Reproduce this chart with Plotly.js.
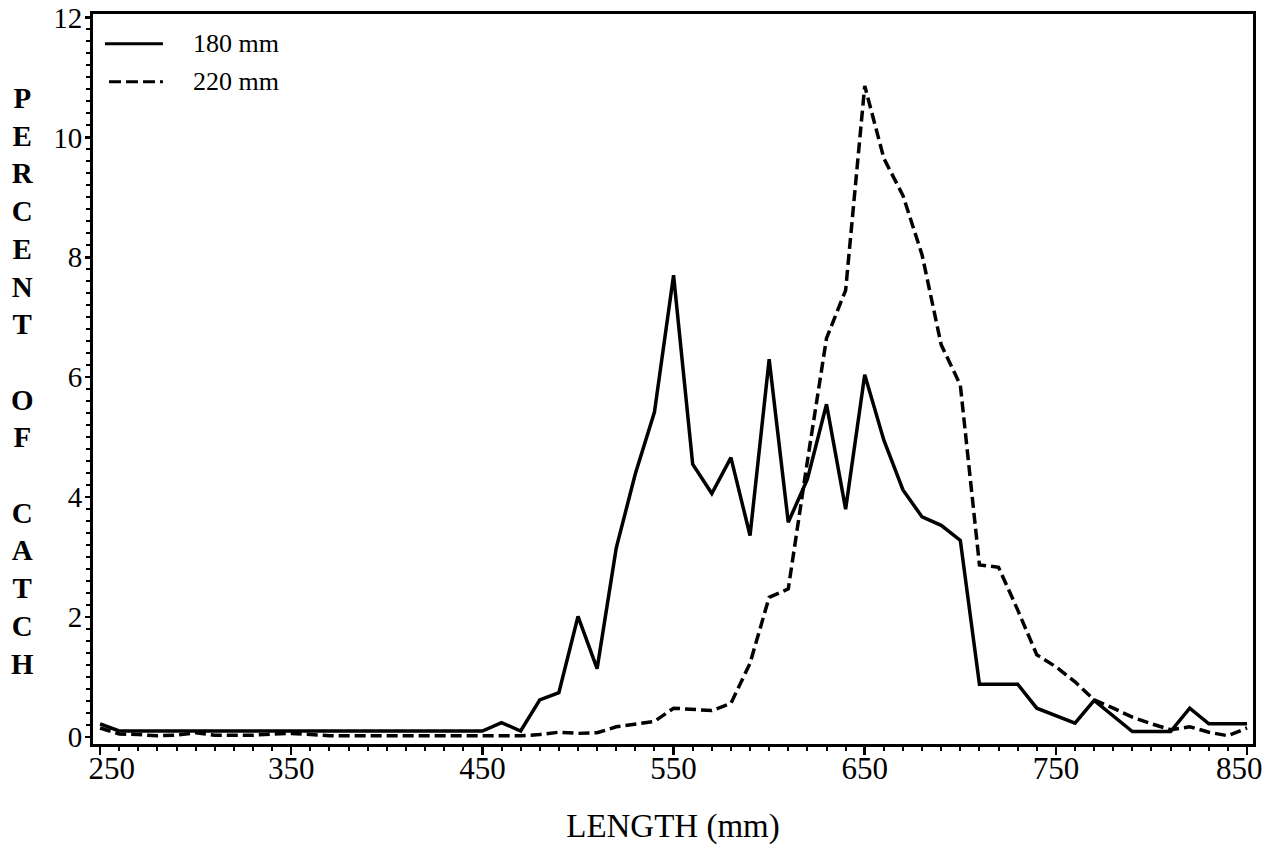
<!DOCTYPE html>
<html>
<head>
<meta charset="utf-8">
<script src="https://cdn.plot.ly/plotly-3.0.1.min.js"></script>
<style>
  html, body { margin: 0; padding: 0; background: #fff; }
  #chart { width: 1281px; height: 848px; }
</style>
</head>
<body>
<div id="chart"></div>
<script>
// Length classes (mm)
const lengths = [250, 260, 270, 280, 290, 300, 310, 320, 330, 340,
                 350, 360, 370, 380, 390, 400, 410, 420, 430, 440,
                 450, 460, 470, 480, 490, 500, 510, 520, 530, 540,
                 550, 560, 570, 580, 590, 600, 610, 620, 630, 640,
                 650, 660, 670, 680, 690, 700, 710, 720, 730, 740,
                 750, 760, 770, 780, 790, 800, 810, 820, 830, 840, 850];

// Percent of catch, 180 mm mesh (solid)
const mesh180 = [0.22, 0.10, 0.10, 0.10, 0.10, 0.10, 0.10, 0.10, 0.10, 0.10,
                 0.10, 0.10, 0.10, 0.10, 0.10, 0.10, 0.10, 0.10, 0.10, 0.10,
                 0.10, 0.24, 0.10, 0.62, 0.74, 2.01, 1.14, 3.15, 4.39, 5.42,
                 7.70, 4.55, 4.06, 4.66, 3.36, 6.30, 3.58, 4.30, 5.55, 3.80,
                 6.04, 4.95, 4.12, 3.67, 3.53, 3.28, 0.88, 0.88, 0.88, 0.48,
                 0.36, 0.23, 0.61, 0.35, 0.09, 0.09, 0.09, 0.48, 0.22, 0.22, 0.22];

// Percent of catch, 220 mm mesh (dashed)
const mesh220 = [0.15, 0.05, 0.04, 0.02, 0.03, 0.07, 0.03, 0.03, 0.03, 0.05,
                 0.06, 0.04, 0.02, 0.02, 0.02, 0.02, 0.02, 0.02, 0.02, 0.02,
                 0.02, 0.02, 0.02, 0.04, 0.08, 0.06, 0.07, 0.17, 0.22, 0.26,
                 0.48, 0.46, 0.44, 0.56, 1.23, 2.33, 2.47, 4.60, 6.65, 7.45,
                 10.86, 9.65, 9.03, 8.04, 6.54, 5.87, 2.87, 2.83, 2.12, 1.37,
                 1.17, 0.92, 0.62, 0.48, 0.33, 0.22, 0.12, 0.17, 0.08, 0.02, 0.15];

const seriesNames = ['180 mm', '220 mm'];
const xTickVals = [250, 350, 450, 550, 650, 750, 850];
const NB = '\u00a0';
const xTickText = [NB + NB + NB + '250', '350', '450', '550', '650', '750', '850' + NB + NB];
const yTickVals = [0, 2, 4, 6, 8, 10, 12];
const yTitle = 'P<br>E<br>R<br>C<br>E<br>N<br>T<br> <br>O<br>F<br> <br>C<br>A<br>T<br>C<br>H';

const FONT = 'Liberation Serif, Times New Roman, serif';

const traces = [
  { x: lengths, y: mesh180, name: seriesNames[0], type: 'scatter', mode: 'lines',
    line: { color: '#000', width: 3.5, dash: 'solid' }, showlegend: false },
  { x: lengths, y: mesh220, name: seriesNames[1], type: 'scatter', mode: 'lines',
    line: { color: '#000', width: 3.5, dash: '11px,5px' }, showlegend: false }
];

const layout = {
  width: 1281, height: 848,
  margin: { l: 93, r: 28, t: 14, b: 104, pad: 0 },
  paper_bgcolor: '#fff', plot_bgcolor: '#fff',
  font: { family: FONT, color: '#000' },
  xaxis: {
    range: [246.3, 853.1],
    tickmode: 'array', tickvals: xTickVals, ticktext: xTickText,
    ticks: 'outside', ticklen: 8, tickwidth: 2.5, tickcolor: '#000',
    ticklabelstandoff: -13,
    minor: { dtick: 10, tick0: 250, ticks: 'outside', ticklen: 4, tickwidth: 2, tickcolor: '#000', showgrid: false },
    showline: true, linewidth: 3, linecolor: '#000', mirror: true,
    showgrid: false, zeroline: false,
    tickfont: { family: FONT, size: 31, color: '#000' },
    title: { text: 'LENGTH (mm)', font: { family: FONT, size: 33, color: '#000' }, standoff: 29 }
  },
  yaxis: {
    range: [-0.117, 12.058],
    tickmode: 'array', tickvals: yTickVals,
    ticks: 'outside', ticklen: 5, tickwidth: 2.5, tickcolor: '#000',
    ticklabelstandoff: -3,
    minor: { dtick: 0.2, tick0: 0, ticks: 'outside', ticklen: 4, tickwidth: 2, tickcolor: '#000', showgrid: false },
    showline: true, linewidth: 3, linecolor: '#000', mirror: true,
    showgrid: false, zeroline: false,
    tickfont: { family: FONT, size: 29, color: '#000' }
  },
  shapes: [
    { type: 'line', xref: 'paper', yref: 'paper', x0: 0.0103, x1: 0.0603, y0: 0.9594, y1: 0.9594,
      line: { color: '#000', width: 3 } },
    { type: 'line', xref: 'paper', yref: 'paper', x0: 0.0138, x1: 0.0603, y0: 0.9071, y1: 0.9071,
      line: { color: '#000', width: 3, dash: '12px,5px' } }
  ],
  annotations: [
    { xref: 'paper', yref: 'paper', x: 0.0845, y: 0.9594, xanchor: 'left', yanchor: 'middle',
      text: seriesNames[0], showarrow: false, font: { family: FONT, size: 26, color: '#000' } },
    { xref: 'paper', yref: 'paper', x: 0.0845, y: 0.9071, xanchor: 'left', yanchor: 'middle',
      text: seriesNames[1], showarrow: false, font: { family: FONT, size: 26, color: '#000' } },
    { xref: 'paper', yref: 'paper', x: -0.0612, y: 0.4966, xanchor: 'center', yanchor: 'middle',
      text: yTitle, showarrow: false, align: 'center',
      font: { family: FONT, size: 29, color: '#000', weight: 'bold' } }
  ]
};

Plotly.newPlot('chart', traces, layout, { staticPlot: true, displayModeBar: false });
</script>
</body>
</html>
